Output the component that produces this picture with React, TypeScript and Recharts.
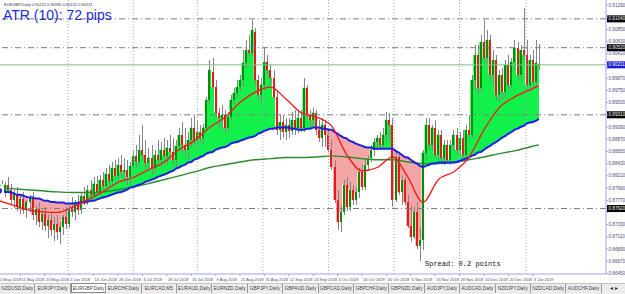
import React from "react";
import {
  ComposedChart,
  Bar,
  Line,
  Area,
  XAxis,
  YAxis,
  ReferenceLine,
} from "recharts";

// EURGBP daily, May 2018 - Jan 2019
const dateLabels = [
  "1 May 2018", "11 May 2018", "23 May 2018", "4 Jun 2018", "14 Jun 2018", "26 Jun 2018",
  "6 Jul 2018", "18 Jul 2018", "30 Jul 2018", "9 Aug 2018", "21 Aug 2018", "31 Aug 2018",
  "12 Sep 2018", "24 Sep 2018", "4 Oct 2018", "16 Oct 2018", "26 Oct 2018", "6 Nov 2018",
  "16 Nov 2018", "28 Nov 2018", "10 Dec 2018", "20 Dec 2018", "3 Jan 2019",
];
const barsPerLabel = 8;

const opens = [
  0.8787, 0.8782, 0.8800, 0.8792, 0.8805, 0.8796, 0.8778, 0.8789, 0.8765, 0.8780,
  0.8760, 0.8773, 0.8782, 0.8751, 0.8762, 0.8738, 0.8753, 0.8731, 0.8742, 0.8724,
  0.8735, 0.8719, 0.8728, 0.8746, 0.8735, 0.8762, 0.8756, 0.8773, 0.8760, 0.8785,
  0.8776, 0.8796, 0.8787, 0.8807, 0.8792, 0.8814, 0.8803, 0.8825, 0.8812, 0.8836,
  0.8821, 0.8841, 0.8828, 0.8832, 0.8818, 0.8839, 0.8857, 0.8846, 0.8868, 0.8859,
  0.8845, 0.8854, 0.8836, 0.8859, 0.8850, 0.8868, 0.8857, 0.8872, 0.8864, 0.8850,
  0.8875, 0.8895, 0.8877, 0.8868, 0.8886, 0.8908, 0.8886, 0.8900, 0.8890, 0.8908,
  0.8958, 0.9008, 0.8981, 0.8935, 0.8926, 0.8931, 0.8908, 0.8927, 0.8958, 0.8971,
  0.8981, 0.8994, 0.9025, 0.9048, 0.9043, 0.9080, 0.8994, 0.8967, 0.8985, 0.9026,
  0.9012, 0.8998, 0.8963, 0.8904, 0.8918, 0.8900, 0.8913, 0.8902, 0.8922, 0.8908,
  0.8926, 0.8908, 0.8980, 0.8931, 0.8922, 0.8935, 0.8904, 0.8890, 0.8913, 0.8895,
  0.8868, 0.8837, 0.8778, 0.8737, 0.8756, 0.8805, 0.8764, 0.8796, 0.8778, 0.8791,
  0.8828, 0.8801, 0.8841, 0.8854, 0.8868, 0.8882, 0.8890, 0.8877, 0.8895, 0.8922,
  0.8913, 0.8778, 0.8855, 0.8791, 0.8814, 0.8773, 0.8731, 0.8710, 0.8756, 0.8695,
  0.8706, 0.8863, 0.8913, 0.8877, 0.8908, 0.8859, 0.8895, 0.8854, 0.8877, 0.8850,
  0.8877, 0.8895, 0.8868, 0.8890, 0.8859, 0.8904, 0.8895, 0.8994, 0.9039, 0.8980,
  0.9062, 0.9034, 0.9066, 0.9003, 0.9030, 0.8967, 0.9003, 0.8972, 0.9021, 0.8985,
  0.9026, 0.9052, 0.9003, 0.9048, 0.9039, 0.8985, 0.9030, 0.8990, 0.90222,
];
const highs = [
  0.8800, 0.8805, 0.8814, 0.8809, 0.8818, 0.8807, 0.8796, 0.8800, 0.8785, 0.8791,
  0.8778, 0.8787, 0.8792, 0.8769, 0.8773, 0.8760, 0.8764, 0.8751, 0.8756, 0.8746,
  0.8751, 0.8738, 0.8751, 0.8764, 0.8769, 0.8782, 0.8778, 0.8787, 0.8792, 0.8800,
  0.8805, 0.8814, 0.8818, 0.8821, 0.8823, 0.8828, 0.8836, 0.8841, 0.8846, 0.8850,
  0.8854, 0.8859, 0.8854, 0.8850, 0.8846, 0.8868, 0.8877, 0.8895, 0.8913, 0.8886,
  0.8872, 0.8877, 0.8868, 0.8886, 0.8882, 0.8890, 0.8886, 0.8895, 0.8890, 0.8886,
  0.8908, 0.8918, 0.8908, 0.8900, 0.8926, 0.8931, 0.8922, 0.8913, 0.8915, 0.8963,
  0.9030, 0.9034, 0.8994, 0.8944, 0.8949, 0.8940, 0.8936, 0.8967, 0.8980, 0.8994,
  0.9003, 0.9048, 0.9066, 0.9075, 0.9102, 0.9088, 0.9003, 0.8998, 0.9053, 0.9039,
  0.9021, 0.9012, 0.8976, 0.8931, 0.8931, 0.8926, 0.8926, 0.8936, 0.8940, 0.8936,
  0.8940, 0.8998, 0.8985, 0.8940, 0.8944, 0.8940, 0.8922, 0.8926, 0.8922, 0.8908,
  0.8886, 0.8850, 0.8796, 0.8769, 0.8814, 0.8818, 0.8809, 0.8805, 0.8800, 0.8836,
  0.8841, 0.8850, 0.8859, 0.8877, 0.8890, 0.8895, 0.8900, 0.8908, 0.8936, 0.8935,
  0.8926, 0.8868, 0.8864, 0.8823, 0.8819, 0.8787, 0.8769, 0.8764, 0.8773, 0.8728,
  0.8868, 0.8926, 0.8926, 0.8913, 0.8922, 0.8904, 0.8904, 0.8886, 0.8886, 0.8886,
  0.8904, 0.8908, 0.8900, 0.8904, 0.8913, 0.8931, 0.9003, 0.9057, 0.9057, 0.9075,
  0.9102, 0.9084, 0.9075, 0.9048, 0.9039, 0.9012, 0.9016, 0.9030, 0.9039, 0.9034,
  0.9066, 0.9062, 0.9057, 0.9124, 0.9066, 0.9039, 0.9048, 0.9066, 0.90585,
];
const lows = [
  0.8773, 0.8774, 0.8787, 0.8782, 0.8792, 0.8769, 0.8764, 0.8756, 0.8753, 0.8751,
  0.8746, 0.8756, 0.8742, 0.8733, 0.8728, 0.8724, 0.8720, 0.8710, 0.8713, 0.8702,
  0.8706, 0.8699, 0.8715, 0.8724, 0.8728, 0.8746, 0.8742, 0.8751, 0.8753, 0.8767,
  0.8769, 0.8778, 0.8782, 0.8785, 0.8787, 0.8792, 0.8796, 0.8803, 0.8805, 0.8814,
  0.8810, 0.8818, 0.8814, 0.8805, 0.8807, 0.8832, 0.8836, 0.8839, 0.8850, 0.8832,
  0.8828, 0.8823, 0.8828, 0.8841, 0.8836, 0.8846, 0.8841, 0.8850, 0.8841, 0.8836,
  0.8868, 0.8864, 0.8854, 0.8850, 0.8872, 0.8877, 0.8872, 0.8882, 0.8877, 0.8904,
  0.8949, 0.8976, 0.8926, 0.8908, 0.8904, 0.8899, 0.8900, 0.8922, 0.8949, 0.8962,
  0.8972, 0.8981, 0.9016, 0.9034, 0.9037, 0.8985, 0.8958, 0.8953, 0.8976, 0.9003,
  0.8985, 0.8958, 0.8895, 0.8886, 0.8890, 0.8886, 0.8890, 0.8895, 0.8895, 0.8899,
  0.8900, 0.8900, 0.8922, 0.8909, 0.8913, 0.8895, 0.8882, 0.8873, 0.8873, 0.8864,
  0.8832, 0.8773, 0.8724, 0.8720, 0.8751, 0.8756, 0.8756, 0.8769, 0.8767, 0.8782,
  0.8796, 0.8796, 0.8832, 0.8846, 0.8857, 0.8868, 0.8868, 0.8872, 0.8881, 0.8886,
  0.8765, 0.8774, 0.8787, 0.8769, 0.8769, 0.8728, 0.8702, 0.8706, 0.8688, 0.8666,
  0.8688, 0.8850, 0.8868, 0.8868, 0.8854, 0.8850, 0.8846, 0.8841, 0.8846, 0.8841,
  0.8868, 0.8859, 0.8859, 0.8854, 0.8850, 0.8886, 0.8890, 0.8976, 0.8967, 0.8972,
  0.9021, 0.9026, 0.8994, 0.8985, 0.8958, 0.8954, 0.8958, 0.8962, 0.8976, 0.8980,
  0.9012, 0.8994, 0.8990, 0.9030, 0.8976, 0.8972, 0.8980, 0.8983, 0.90122,
];
const closes = [
  0.8782, 0.8800, 0.8792, 0.8805, 0.8796, 0.8778, 0.8789, 0.8765, 0.8780, 0.8760,
  0.8773, 0.8782, 0.8751, 0.8762, 0.8738, 0.8753, 0.8731, 0.8742, 0.8724, 0.8735,
  0.8719, 0.8728, 0.8746, 0.8735, 0.8762, 0.8756, 0.8773, 0.8760, 0.8785, 0.8776,
  0.8796, 0.8787, 0.8807, 0.8792, 0.8814, 0.8803, 0.8825, 0.8812, 0.8836, 0.8821,
  0.8841, 0.8828, 0.8832, 0.8818, 0.8839, 0.8857, 0.8846, 0.8868, 0.8859, 0.8845,
  0.8854, 0.8836, 0.8859, 0.8850, 0.8868, 0.8857, 0.8872, 0.8864, 0.8850, 0.8875,
  0.8895, 0.8877, 0.8868, 0.8886, 0.8908, 0.8886, 0.8900, 0.8890, 0.8908, 0.8958,
  0.9012, 0.8981, 0.8935, 0.8926, 0.8931, 0.8908, 0.8927, 0.8958, 0.8971, 0.8981,
  0.8994, 0.9025, 0.9048, 0.9043, 0.9084, 0.8994, 0.8967, 0.8985, 0.9026, 0.9012,
  0.8998, 0.8963, 0.8904, 0.8918, 0.8900, 0.8913, 0.8902, 0.8922, 0.8908, 0.8926,
  0.8908, 0.8980, 0.8931, 0.8922, 0.8935, 0.8904, 0.8890, 0.8913, 0.8895, 0.8868,
  0.8837, 0.8778, 0.8737, 0.8756, 0.8805, 0.8764, 0.8796, 0.8778, 0.8791, 0.8828,
  0.8801, 0.8841, 0.8854, 0.8868, 0.8882, 0.8890, 0.8877, 0.8895, 0.8922, 0.8913,
  0.8778, 0.8855, 0.8791, 0.8814, 0.8773, 0.8731, 0.8710, 0.8756, 0.8695, 0.8706,
  0.8863, 0.8913, 0.8877, 0.8908, 0.8859, 0.8895, 0.8854, 0.8877, 0.8850, 0.8877,
  0.8895, 0.8868, 0.8890, 0.8859, 0.8904, 0.8895, 0.8994, 0.9039, 0.8980, 0.9062,
  0.9034, 0.9066, 0.9003, 0.9030, 0.8967, 0.9003, 0.8972, 0.9021, 0.8985, 0.9026,
  0.9052, 0.9003, 0.9048, 0.9039, 0.8985, 0.9030, 0.8990, 0.9025, 0.90211,
];

// blue MA, one value per bar
const blueMa = [
  0.8796, 0.8794, 0.8794, 0.8792, 0.8792, 0.8791, 0.8789, 0.8787, 0.8787, 0.8785,
  0.8783, 0.8782, 0.8782, 0.8780, 0.8780, 0.8778, 0.8776, 0.8776, 0.8774, 0.8774,
  0.8773, 0.8773, 0.8773, 0.8771, 0.8771, 0.8771, 0.8771, 0.8773, 0.8773, 0.8773,
  0.8774, 0.8776, 0.8776, 0.8778, 0.8780, 0.8782, 0.8783, 0.8785, 0.8787, 0.8789,
  0.8791, 0.8792, 0.8794, 0.8796, 0.8800, 0.8801, 0.8803, 0.8805, 0.8807, 0.8810,
  0.8812, 0.8814, 0.8816, 0.8819, 0.8821, 0.8823, 0.8825, 0.8828, 0.8830, 0.8834,
  0.8836, 0.8839, 0.8841, 0.8845, 0.8846, 0.8850, 0.8852, 0.8855, 0.8857, 0.8861,
  0.8863, 0.8864, 0.8868, 0.8870, 0.8872, 0.8873, 0.8875, 0.8879, 0.8881, 0.8882,
  0.8884, 0.8886, 0.8888, 0.8890, 0.8891, 0.8893, 0.8897, 0.8899, 0.8902, 0.8904,
  0.8906, 0.8906, 0.8908, 0.8908, 0.8908, 0.8908, 0.8908, 0.8906, 0.8906, 0.8904,
  0.8904, 0.8904, 0.8906, 0.8906, 0.8908, 0.8908, 0.8908, 0.8906, 0.8906, 0.8904,
  0.8904, 0.8900, 0.8897, 0.8893, 0.8890, 0.8888, 0.8884, 0.8882, 0.8879, 0.8877,
  0.8875, 0.8873, 0.8872, 0.8872, 0.8870, 0.8870, 0.8870, 0.8870, 0.8870, 0.8870,
  0.8870, 0.8866, 0.8863, 0.8859, 0.8855, 0.8854, 0.8850, 0.8846, 0.8843, 0.8839,
  0.8837, 0.8839, 0.8841, 0.8843, 0.8843, 0.8845, 0.8845, 0.8845, 0.8845, 0.8845,
  0.8845, 0.8846, 0.8848, 0.8850, 0.8852, 0.8854, 0.8857, 0.8859, 0.8863, 0.8864,
  0.8868, 0.8872, 0.8875, 0.8879, 0.8882, 0.8886, 0.8890, 0.8893, 0.8897, 0.8900,
  0.8904, 0.8906, 0.8909, 0.8911, 0.8915, 0.8917, 0.8918, 0.8920, 0.8924,
];

// red (fast) and green (slow) MAs, read every 5 bars
const maBars = [
  0, 5, 10, 15, 20, 25, 30, 35, 40, 45, 50, 55, 60, 65, 70, 75, 80, 85, 90,
  95, 100, 105, 110, 115, 120, 125, 130, 135, 140, 145, 150, 155, 160, 165, 170, 175, 178,
];
const redMa = [
  0.8778, 0.8769, 0.8760, 0.8756, 0.8755, 0.8764, 0.8778, 0.8792, 0.8809, 0.8818,
  0.8832, 0.8845, 0.8868, 0.8884, 0.8908, 0.8926, 0.8953, 0.8972, 0.8981, 0.8960,
  0.8935, 0.8927, 0.8911, 0.8859, 0.8830, 0.8836, 0.8855, 0.8819, 0.8773, 0.8814,
  0.8828, 0.8854, 0.8904, 0.8944, 0.8963, 0.8976, 0.8983,
];
const greenMa = [
  0.8800, 0.8798, 0.8796, 0.8794, 0.8792, 0.8791, 0.8791, 0.8792, 0.8796, 0.8801,
  0.8807, 0.8814, 0.8821, 0.8828, 0.8836, 0.8841, 0.8846, 0.8850, 0.8852, 0.8854,
  0.8854, 0.8855, 0.8857, 0.8855, 0.8852, 0.8850, 0.8850, 0.8846, 0.8843, 0.8843,
  0.8845, 0.8850, 0.8855, 0.8861, 0.8866, 0.8873, 0.8877,
];

const levels = [0.9104, 0.9052, 0.8931, 0.8762];
const priceTicks = [
  0.8645, 0.8667, 0.8689, 0.8711, 0.8733, 0.8755, 0.8777, 0.8799, 0.8821, 0.8843,
  0.8865, 0.8887, 0.8909, 0.8931, 0.8953, 0.8975, 0.8997, 0.9019, 0.9041, 0.9063,
  0.9085, 0.9107, 0.9129,
];
const gridBars = [23.6, 45, 66, 87.5, 109, 130.5, 152, 173.8];

const tabs = [
  "NZDUSD,Daily", "EURJPY,Daily", "EURGBP,Daily", "EURCHF,Daily", "EURCAD,M5",
  "EURAUD,Daily", "EURNZD,Daily", "GBPJPY,Daily", "GBPAUD,Daily", "GBPCAD,Daily",
  "GBPCHF,Daily", "GBPNZD,Daily", "AUDJPY,Daily", "AUDCAD,Daily", "NZDJPY,Daily",
  "NZDCAD,Daily", "AUDCHF,Daily",
];
const activeTab = 2;

const last = closes.length - 1;
const tagged = [...levels, closes[last]];
const rows = closes.map((c, i) => {
  const b = blueMa[i];
  const k = maBars.indexOf(i);
  return {
    i,
    o: opens[i],
    h: highs[i],
    l: lows[i],
    c,
    b,
    range: [lows[i], highs[i]],
    up: c >= b ? [b, c] : [b, b],
    dn: c < b ? [c, b] : [b, b],
    red: k >= 0 ? redMa[k] : null,
    green: k >= 0 ? greenMa[k] : null,
  };
});

const AXIS = "#a3a3e3";
const LABEL = "#4a4a7a";
const SMALL = 4.6;
const DATE_FONT = 4;
const CHART_SHIFT = 16; // chart starts left of the page so the first bars are cut like the terminal

const Candle = (props: any) => {
  const { x, y, width, height, payload } = props;
  if (!payload) return null;
  const { o, h, l, c } = payload;
  const top = Math.min(y, y + height);
  const hgt = Math.abs(height);
  const py = (v: number) => top + ((h - v) / (h - l || 1)) * hgt;
  const cx = Math.round(x + width / 2);
  const bTop = Math.round(py(Math.max(o, c)));
  const bBot = Math.round(py(Math.min(o, c)));
  return (
    <g>
      <rect x={cx} y={Math.round(top)} width={1} height={Math.max(1, Math.round(hgt))} fill="#858585" />
      <rect
        x={cx - 1}
        y={bTop}
        width={2}
        height={Math.max(1, bBot - bTop)}
        fill={c >= o ? "#008f00" : "#e31b1b"}
      />
    </g>
  );
};

const DateTick = (props: any) => {
  const { x, y, payload } = props;
  return (
    <text
      x={Math.max(x + 1, CHART_SHIFT)}
      y={y + 4.5}
      fontSize={DATE_FONT}
      fill={LABEL}
      textAnchor="start"
    >
      {dateLabels[Math.round(payload.value / barsPerLabel)]}
    </text>
  );
};

// the boxed price tags sit over the plain scale labels, so those are skipped
const PriceTick = (props: any) => {
  const { x, y, payload } = props;
  if (tagged.some((t) => Math.abs(t - payload.value) < 0.0009)) return null;
  return (
    <text x={x + 0.5} y={y + 1.6} fontSize={SMALL} fill={LABEL} textAnchor="start">
      {payload.value.toFixed(5)}
    </text>
  );
};

const tag = (value: number, bg: string) => (p: any) => {
  const vb = p.viewBox || {};
  const x = vb.x + vb.width + 1;
  return (
    <g>
      <rect x={x} y={vb.y - 3.5} width={20} height={7} fill={bg} />
      <text x={x + 1.5} y={vb.y + 1.6} fontSize={SMALL} fill="#fff">
        {value.toFixed(5)}
      </text>
    </g>
  );
};

export default function App() {
  const dateTicks = dateLabels.map((_, k) => k * barsPerLabel);
  const header = `EURGBP,Daily  ${opens[last].toFixed(5)} ${highs[last].toFixed(5)} ${lows[last].toFixed(5)} ${closes[last].toFixed(5)}`;
  return (
    <div
      style={{
        position: "fixed",
        left: 0,
        top: 0,
        width: 625,
        height: 294,
        overflow: "hidden",
        background: "#fff",
        fontFamily: "'Liberation Sans', Arial, sans-serif",
      }}
    >
      <div style={{ position: "absolute", left: -CHART_SHIFT, top: 0 }}>
        <ComposedChart
          width={641}
          height={283}
          data={rows}
          margin={{ top: 0, right: 0, bottom: 0, left: 0 }}
        >
          <XAxis
            type="number"
            dataKey="i"
            domain={[-3.934, 200]}
            allowDataOverflow
            ticks={dateTicks}
            interval={0}
            height={9}
            tickSize={2}
            tickMargin={0}
            axisLine={{ stroke: AXIS }}
            tickLine={{ stroke: AXIS }}
            tick={<DateTick />}
          />
          <YAxis
            orientation="right"
            width={19}
            domain={[0.8644, 0.9138]}
            allowDataOverflow
            ticks={priceTicks}
            interval={0}
            tickSize={2}
            tickMargin={0}
            axisLine={{ stroke: AXIS }}
            tickLine={{ stroke: AXIS }}
            tick={<PriceTick />}
          />
          {gridBars.map((g) => (
            <ReferenceLine key={g} x={g} stroke="#a6a6d8" strokeDasharray="1 2" />
          ))}
          <Area
            dataKey="up"
            type="step"
            fill="#12f04a"
            fillOpacity={1}
            stroke="none"
            isAnimationActive={false}
          />
          <Area
            dataKey="dn"
            type="step"
            fill="#f4a5a5"
            fillOpacity={1}
            stroke="none"
            isAnimationActive={false}
          />
          <Bar dataKey="range" barSize={3} shape={Candle} isAnimationActive={false} />
          <Line
            dataKey="green"
            type="monotone"
            stroke="#2c8c2c"
            strokeWidth={1.4}
            dot={false}
            connectNulls
            isAnimationActive={false}
          />
          <Line
            dataKey="b"
            type="monotone"
            stroke="#1e1ee8"
            strokeWidth={2}
            dot={false}
            isAnimationActive={false}
          />
          <Line
            dataKey="red"
            type="monotone"
            stroke="#ff1414"
            strokeWidth={1.3}
            dot={false}
            connectNulls
            isAnimationActive={false}
          />
          {levels.map((v) => (
            <ReferenceLine
              key={v}
              y={v}
              stroke="#7c7c7c"
              strokeDasharray="6 3 1 3"
              label={tag(v, "#000")}
            />
          ))}
          <ReferenceLine y={closes[last]} stroke="#7fc27f" label={tag(closes[last], "#1c1cd8")} />
        </ComposedChart>
      </div>

      <svg
        width={625}
        height={294}
        style={{ position: "absolute", left: 0, top: 0, pointerEvents: "none" }}
      >
        <text x={4} y={5.5} fontSize={4} fill="#333">
          {header}
        </text>
        <text x={3} y={20} fontSize={14} fill="#2626dc" fontFamily="'Liberation Sans', Arial">
          ATR (10): 72 pips
        </text>
        <text x={425} y={266} fontSize={7} fill="#111" fontFamily="'Liberation Mono', monospace">
          Spread: 0.2 points
        </text>
      </svg>

      <div
        style={{
          position: "absolute",
          left: 0,
          top: 283,
          width: 625,
          height: 11,
          background: "#ececec",
          borderTop: "1px solid #c4c4c4",
          boxSizing: "border-box",
        }}
      >
        {tabs.map((t, k) => (
          <div
            key={t}
            style={{
              position: "absolute",
              left: k * 35.4,
              top: k === activeTab ? -1 : 0,
              width: 35.4,
              height: k === activeTab ? 10 : 9,
              boxSizing: "border-box",
              background: k === activeTab ? "#fff" : "transparent",
              border: k === activeTab ? "1px solid #888" : "none",
              borderRight: "1px solid #999",
              fontSize: 4.8,
              lineHeight: "9px",
              textAlign: "center",
              color: "#444",
              whiteSpace: "nowrap",
              overflow: "hidden",
            }}
          >
            {t}
          </div>
        ))}
        <div
          style={{
            position: "absolute",
            left: 603,
            top: 0,
            width: 22,
            height: 9,
            background: "#ececec",
            fontSize: 6,
            lineHeight: "9px",
            color: "#333",
            textAlign: "center",
          }}
        >
          ◂ ▸
        </div>
      </div>
    </div>
  );
}
